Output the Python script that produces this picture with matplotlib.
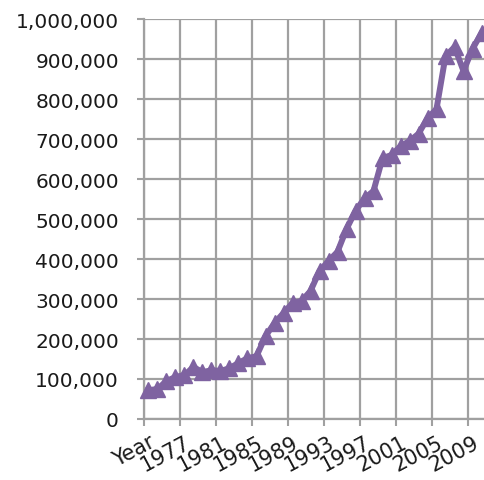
import numpy as np
import matplotlib
matplotlib.use("Agg")
import matplotlib.pyplot as plt
from matplotlib.ticker import FuncFormatter

# categories: first row of the sheet is the header "Year", then 1974..2010
categories = ["Year"] + [str(y) for y in range(1974, 2011)]
values = [72000, 75000, 95000, 105000, 110000, 130000, 117000, 122000,
          120000, 127000, 140000, 152000, 157000, 207000, 240000, 265000,
          290000, 295000, 320000, 370000, 395000, 418000, 475000, 520000,
          552000, 570000, 652000, 660000, 682000, 695000, 713000, 752000,
          775000, 907000, 930000, 870000, 925000, 965000]
yticks = list(range(0, 1000001, 100000))
label_step = 4

line_color = "#7F63A1"
grid_color = "#A0A0A0"

fig = plt.figure(figsize=(4.85, 4.81), dpi=100)
# axes runs slightly past the right edge of the figure
ax = fig.add_axes([144/485, 61/481, 342/485, 400/481])

x = np.arange(len(values))
ax.plot(x, values, color=line_color, lw=4.3, marker="^", ms=12,
        mfc=line_color, mec=line_color, mew=1, clip_on=False, zorder=3)

ax.set_xlim(-0.5, len(values) - 0.5)
ax.set_ylim(0, 1000000)

# gridlines / tick marks sit between categories every 4 steps
ax.set_xticks(np.arange(-0.5, len(values), label_step))
ax.set_xticklabels([])
ax.set_xticks(x[::label_step], minor=True)
ax.set_xticklabels(categories[::label_step], minor=True, rotation=28,
                   ha="right", va="top", rotation_mode="anchor",
                   fontsize=15)
ax.tick_params(axis="x", which="minor", length=0, pad=9)
ax.tick_params(axis="x", which="major", length=5, width=1.5, color=grid_color,
               direction="out")

ax.set_yticks(yticks)
ax.yaxis.set_major_formatter(FuncFormatter(lambda v, p: "{:,}".format(int(v))))
ax.tick_params(axis="y", length=5, width=1.5, color=grid_color, pad=13,
               labelsize=14.5, labelcolor="#1A1A1A")
ax.tick_params(axis="x", labelcolor="#1A1A1A", which="both")

ax.grid(True, which="major", color=grid_color, lw=1.6)
ax.set_axisbelow(True)
for s in ["top", "right"]:
    ax.spines[s].set_visible(False)
for s in ["left", "bottom"]:
    ax.spines[s].set_color(grid_color)
    ax.spines[s].set_linewidth(1.6)

fig.savefig("out.png", dpi=100)
